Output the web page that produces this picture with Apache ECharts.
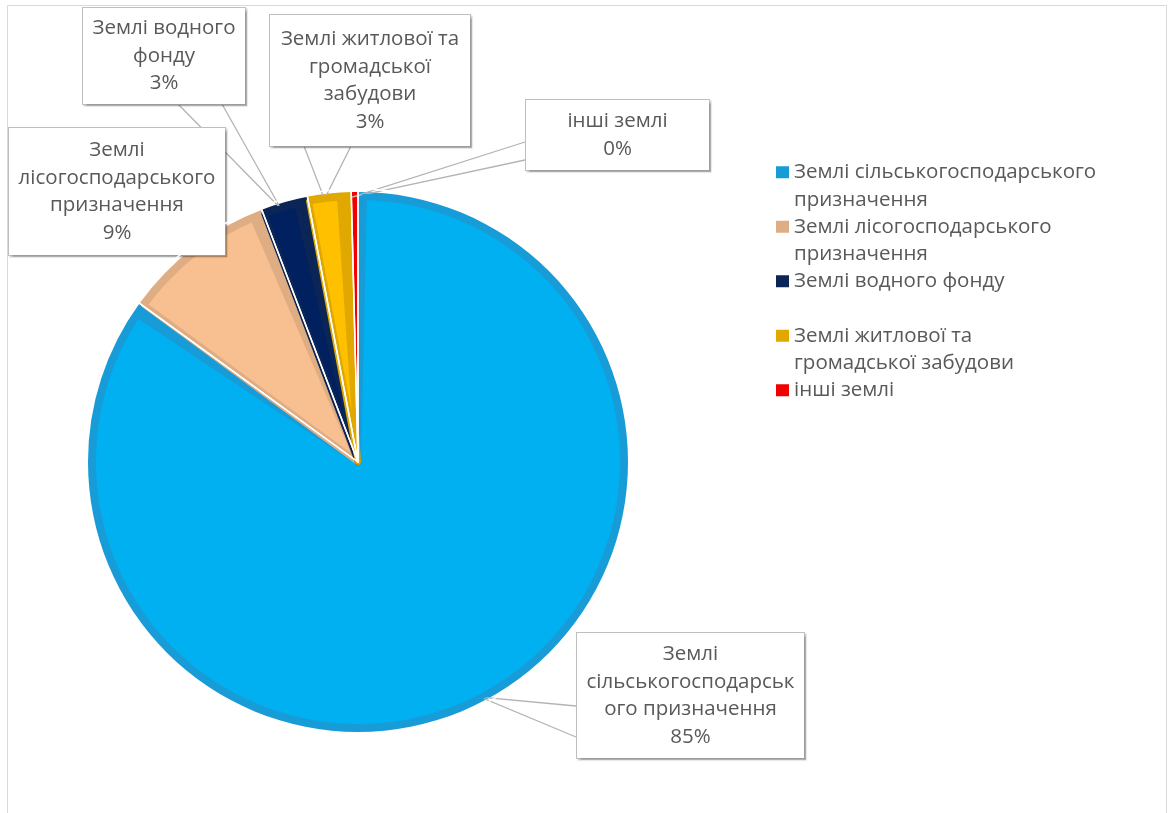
<!DOCTYPE html>
<html>
<head>
<meta charset="utf-8">
<script src="https://cdn.jsdelivr.net/npm/echarts@6/dist/echarts.min.js"></script>
<style>
html, body { margin: 0; padding: 0; background: #fff; }
#chart { width: 1174px; height: 813px; }
</style>
</head>
<body>
<div id="chart"></div>
<script>
// категорії земель та їх частки, %
var categories = [
    'Землі сільськогосподарського призначення',
    'Землі лісогосподарського призначення',
    'Землі водного фонду',
    'Землі житлової та громадської забудови',
    'інші землі'
]
var shares = [85.0, 9.2, 2.8, 2.6, 0.4]

// як перенесено текст у підписах та легенді
var labelNames = [
    'Землі\nсільськогосподарськ\nого призначення',
    'Землі\nлісогосподарського\nпризначення',
    'Землі водного\nфонду',
    'Землі житлової та\nгромадської\nзабудови',
    'інші землі'
]
var legendNames = [
    'Землі сільськогосподарського\nпризначення',
    'Землі лісогосподарського\nпризначення',
    'Землі водного фонду\n',
    'Землі житлової та\nгромадської забудови',
    'інші землі\n'
]

var fillColors = ['#00b0f0', '#f8c090', '#002060', '#ffc000', '#ff0000']
var bandColors = ['#189cd8', '#dfad83', '#0c2557', '#e0a800', '#f20000']

// рамки підписів: x, y, ширина, висота і точки, куди сходиться виноска
var boxes = [
    { x: 576, y: 633, w: 229, h: 125, tip: [[576, 706], [576, 737]] },
    { x: 8, y: 128, w: 218, h: 127, tip: null },
    { x: 82, y: 8, w: 164, h: 96, tip: [[178, 104], [222, 104]] },
    { x: 269, y: 15, w: 202, h: 131, tip: [[304, 146], [351, 146]] },
    { x: 525, y: 100, w: 185, h: 70, tip: [[525, 142], [525, 160]] }
]

var FONT = '"Open Sans", "Noto Sans", sans-serif'
var FS = 20.5
var LH = 27.5
var CENTER = [358, 462]

var chart = echarts.init(document.getElementById('chart'))

var bandData = []
var fillData = []
var lineData = []
var legendData = []
for (var i = 0; i < categories.length; i++) {
    var nLines = labelNames[i].split('\n').length + 1
    var padY = (boxes[i].h - nLines * LH) / 2
    // нижній шар: темніша облямівка сектора
    bandData.push({
        name: categories[i],
        value: shares[i],
        itemStyle: { color: bandColors[i] }
    })
    // верхній шар: світліша заливка
    fillData.push({
        name: categories[i],
        value: shares[i],
        itemStyle: {
            color: fillColors[i],
            borderColor: bandColors[i],
            borderWidth: i === 4 ? 0 : 6
        },
        label: {
            width: boxes[i].w - 2,
            padding: [padY, 0, padY, 0]
        },
        labelLine: { show: !!boxes[i].tip }
    })
    lineData.push({ name: categories[i], value: shares[i] })
    legendData.push({
        name: categories[i],
        itemStyle: { color: bandColors[i] }
    })
}

var option = {
    backgroundColor: '#fff',
    animation: false,
    graphic: [{
        type: 'rect',
        silent: true,
        z: -10,
        shape: { x: 7.5, y: 5.5, width: 1159, height: 840 },
        style: { fill: 'none', stroke: '#d9d9d9', lineWidth: 1 }
    }],
    legend: {
        orient: 'vertical',
        left: 776,
        top: 131,
        padding: 0,
        itemWidth: 13,
        itemHeight: 12,
        itemGap: -28,
        icon: 'rect',
        itemStyle: { borderWidth: 0 },
        selectedMode: false,
        data: legendData,
        // порожній перший рядок, щоб значок стояв навпроти першого рядка тексту
        formatter: function (name) {
            return '\n' + legendNames[categories.indexOf(name)]
        },
        textStyle: {
            fontFamily: FONT,
            fontSize: FS,
            lineHeight: LH,
            color: '#595959'
        }
    },
    series: [
        {
            name: 'Облямівка',
            type: 'pie',
            silent: true,
            center: CENTER,
            radius: 270,
            startAngle: 90,
            clockwise: true,
            data: bandData,
            label: { show: false },
            labelLine: { show: false },
            emphasis: { disabled: true },
            z: 1
        },
        {
            name: 'Структура земель',
            type: 'pie',
            center: CENTER,
            radius: 265,
            padAngle: 2.6,
            startAngle: 90,
            clockwise: true,
            avoidLabelOverlap: false,
            data: fillData,
            label: {
                show: true,
                position: 'outside',
                fontFamily: FONT,
                fontSize: FS,
                lineHeight: LH,
                color: '#595959',
                align: 'center',
                backgroundColor: '#fff',
                borderColor: '#bfbfbf',
                borderWidth: 1,
                shadowColor: 'rgba(0,0,0,0.18)',
                shadowOffsetX: 1.5,
                shadowOffsetY: 1.5,
                shadowBlur: 1,
                formatter: function (p) {
                    return labelNames[p.dataIndex] + '\n' + Math.round(p.percent) + '%'
                }
            },
            labelLine: {
                show: true,
                lineStyle: { color: '#b4b4b4', width: 1.3 }
            },
            labelLayout: function (p) {
                var b = boxes[p.dataIndex]
                var res = {
                    x: b.x + b.w / 2,
                    y: b.y + b.h / 2,
                    align: 'center',
                    verticalAlign: 'middle'
                }
                if (b.tip && p.labelLinePoints) {
                    res.labelLinePoints = [b.tip[0], p.labelLinePoints[0], b.tip[1]]
                }
                return res
            },
            emphasis: { disabled: true },
            z: 2
        },
        {
            // тонкі білі розділювачі між секторами
            name: 'Розділювачі',
            type: 'pie',
            silent: true,
            center: CENTER,
            radius: 273,
            startAngle: 90,
            clockwise: true,
            legendHoverLink: false,
            data: lineData,
            itemStyle: { color: 'rgba(0,0,0,0)', borderColor: '#fff', borderWidth: 1.5 },
            label: { show: false },
            labelLine: { show: false },
            emphasis: { disabled: true },
            z: 3
        }
    ]
}

chart.setOption(option)
</script>
</body>
</html>
